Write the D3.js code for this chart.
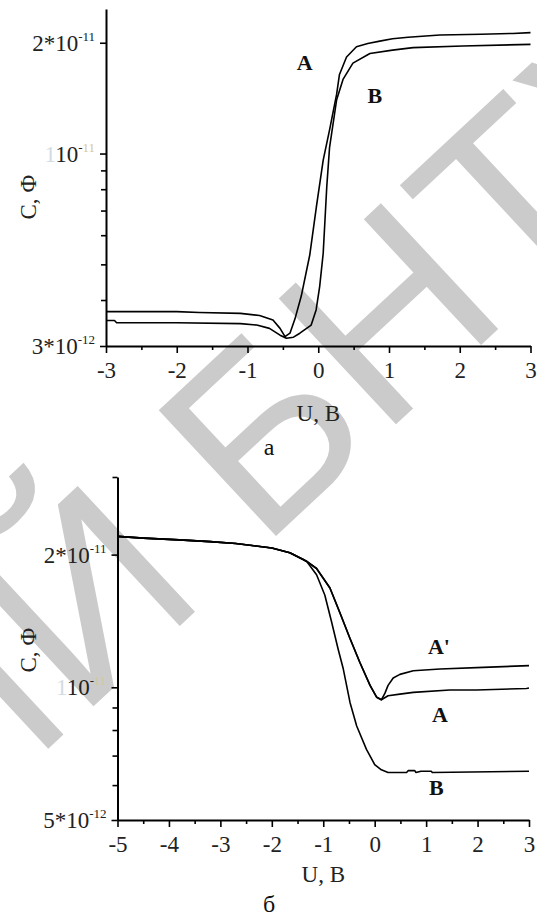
<!DOCTYPE html>
<html>
<head>
<meta charset="utf-8">
<script src="https://cdn.jsdelivr.net/npm/d3@7"></script>
<style>
  body { margin: 0; background: #fff; }
</style>
</head>
<body>
<svg id="chart" width="537" height="918"></svg>
<script>
// values, C in units of 1e-12 F, U in volts
// panel a
var topXTicks = [-3, -2, -1, 0, 1, 2, 3];
var topXMinor = [-2.5, -1.5, -0.5, 0.5, 1.5, 2.5];
var topYMinor = [4, 5, 6, 7, 8, 9];
var topYLabels = [
  { v: 20, parts: [{ t: "2*10" }, { t: "-11", sup: true }] },
  { v: 10, parts: [{ t: "1", c: "#d3dbe4" }, { t: "10" }, { t: "-", sup: true }, { t: "11", sup: true, c: "#d8c98c" }] },
  { v: 3, parts: [{ t: "3*10" }, { t: "-12", sup: true }] }
];
var topA = [[-3, 3.72], [-2.0, 3.72], [-1.68, 3.70], [-1.1, 3.68], [-0.83, 3.63], [-0.64, 3.53],
  [-0.54, 3.35], [-0.47, 3.18], [-0.4, 3.25], [-0.33, 3.55], [-0.24, 4.1], [-0.12, 5.3],
  [-0.025, 7.2], [0.07, 9.6], [0.16, 11.6], [0.26, 14.5], [0.30, 16.4], [0.40, 18.3],
  [0.54, 19.5], [0.7, 19.9], [0.87, 20.2], [1.05, 20.5], [1.27, 20.7], [1.72, 21.0],
  [2.3, 21.1], [2.75, 21.2], [3.0, 21.3]];
var topB = [[-3, 3.52], [-2.88, 3.52], [-2.85, 3.47], [-2.0, 3.47], [-1.1, 3.45], [-0.87, 3.42],
  [-0.69, 3.35], [-0.54, 3.21], [-0.45, 3.15], [-0.35, 3.17], [-0.26, 3.25], [-0.10, 3.42],
  [-0.03, 3.76], [0.02, 4.35], [0.07, 5.36], [0.12, 8.1], [0.16, 10.4], [0.26, 14.0],
  [0.35, 15.9], [0.49, 17.6], [0.73, 18.7], [1.05, 19.1], [1.34, 19.4], [2.04, 19.6], [3.0, 19.8]];

// panel б
var botXTicks = [-5, -4, -3, -2, -1, 0, 1, 2, 3];
var botXMinor = [-4.5, -3.5, -2.5, -1.5, -0.5, 0.5, 1.5, 2.5];
var botYMinor = [6, 7, 8, 9, 30];
var botYLabels = [
  { v: 20, parts: [{ t: "2*10" }, { t: "-11", sup: true }] },
  { v: 10, parts: [{ t: "1", c: "#d3dbe4" }, { t: "10" }, { t: "-", sup: true }, { t: "11", sup: true, c: "#d8c98c" }] },
  { v: 5, parts: [{ t: "5*10" }, { t: "-12", sup: true }] }
];
var botA = [[-5, 22.0], [-4.5, 21.8], [-3.8, 21.6], [-3.2, 21.4], [-2.7, 21.2], [-2.0, 20.7],
  [-1.65, 20.2], [-1.39, 19.5], [-1.32, 19.3], [-1.13, 18.6], [-0.87, 16.8], [-0.68, 14.8],
  [-0.48, 12.9], [-0.29, 11.4], [-0.09, 10.1], [0.04, 9.49], [0.13, 9.37], [0.26, 9.57],
  [0.49, 9.65], [0.75, 9.74], [1.46, 9.86], [1.98, 9.86], [2.95, 9.94], [3.0, 9.96]];
var botA2 = [[-5, 22.0], [-4.5, 21.8], [-3.8, 21.6], [-3.2, 21.4], [-2.7, 21.2], [-2.0, 20.7],
  [-1.65, 20.2], [-1.39, 19.5], [-1.32, 19.3], [-1.13, 18.6], [-0.87, 16.8], [-0.68, 14.8],
  [-0.48, 12.9], [-0.29, 11.4], [-0.09, 10.1], [0.04, 9.49], [0.13, 9.37], [0.2, 9.7],
  [0.26, 10.1], [0.36, 10.5], [0.49, 10.7], [0.75, 10.9], [1.27, 11.0], [2.11, 11.1], [3.0, 11.2]];
var botB = [[-5, 22.0], [-4.5, 21.8], [-3.8, 21.6], [-3.2, 21.4], [-2.7, 21.2], [-2.0, 20.7],
  [-1.65, 20.2], [-1.39, 19.5], [-1.32, 19.3], [-1.13, 18.0], [-0.97, 16.2], [-0.84, 14.1],
  [-0.71, 12.2], [-0.61, 11.0], [-0.48, 9.24], [-0.35, 8.17], [-0.16, 7.23], [0.0, 6.68],
  [0.13, 6.50], [0.26, 6.41], [0.62, 6.41], [0.65, 6.47], [0.78, 6.47], [0.8, 6.41],
  [0.9, 6.45], [1.1, 6.45], [1.12, 6.41], [3.0, 6.45]];

var serif = "'Liberation Serif','Times New Roman',serif";
var svg = d3.select("#chart");

// watermark of the repository, behind everything
var wmSize = 250;
var wm = svg.append("g").attr("transform", "translate(260,428) rotate(-43)")
  .attr("fill", "#cbcbcb").attr("font-family", "'Liberation Sans',Arial,sans-serif")
  .attr("font-size", wmSize);
wm.append("text").attr("x", -0.33 * wmSize).attr("y", 0.36 * wmSize).text("БНТУ");
wm.append("text").attr("x", -0.61 * wmSize).attr("y", 0.36 * wmSize)
  .attr("text-anchor", "end").text("РЕПОЗИТОРИЙ");

function panel(cfg) {
  var g = svg.append("g");
  var x = d3.scaleLinear().domain(cfg.xDomain).range(cfg.xRange);
  var y = d3.scaleLog().domain(cfg.yDomain).range(cfg.yRange);
  var y0 = cfg.yRange[0], x0 = cfg.xRange[0];

  // x axis, major and minor ticks
  var xa = g.append("g").attr("transform", "translate(0," + y0 + ")")
    .call(d3.axisBottom(x).tickValues(cfg.xTicks).tickSize(7).tickSizeOuter(0)
      .tickPadding(9).tickFormat(function(d) { return String(d); }));
  xa.attr("font-family", serif).attr("font-size", 23);
  g.append("g").attr("transform", "translate(0," + y0 + ")")
    .call(d3.axisBottom(x).tickValues(cfg.xMinor).tickSize(4).tickFormat(""))
    .select(".domain").remove();

  // y axis
  g.append("g").attr("transform", "translate(" + x0 + ",0)")
    .call(d3.axisLeft(y).tickValues(cfg.yLabels.map(function(d) { return d.v; }))
      .tickSize(6).tickSizeOuter(0).tickFormat(""));
  g.append("g").attr("transform", "translate(" + x0 + ",0)")
    .call(d3.axisLeft(y).tickValues(cfg.yMinor).tickSize(5).tickFormat(""))
    .select(".domain").remove();

  g.selectAll(".domain").attr("stroke-width", 2);
  g.selectAll(".tick line").attr("stroke-width", 1.6);
  g.selectAll(".tick text").attr("fill", "#222");

  // y tick labels with superscript exponents
  cfg.yLabels.forEach(function(lab) {
    var t = g.append("text").attr("x", x0 - 11).attr("y", y(lab.v) + 8)
      .attr("text-anchor", "end").attr("font-family", serif).attr("font-size", 23)
      .attr("fill", "#222");
    var up = false;
    lab.parts.forEach(function(p) {
      var s = t.append("tspan").text(p.t).attr("fill", p.c || "#222");
      if (p.sup) {
        s.attr("font-size", 13);
        if (!up) { s.attr("dy", -10); up = true; }
      }
    });
  });

  // axis titles
  g.append("text").attr("transform", "translate(36," + cfg.yTitleY + ") rotate(-90)")
    .attr("text-anchor", "middle").attr("font-family", serif).attr("font-size", 23)
    .attr("fill", "#222").text("С, Ф");
  g.append("text").attr("x", (cfg.xRange[0] + cfg.xRange[1]) / 2).attr("y", cfg.xTitleY)
    .attr("text-anchor", "middle").attr("font-family", serif).attr("font-size", 23)
    .attr("fill", "#222").text("U, B");
  g.append("text").attr("x", 269).attr("y", cfg.letterY)
    .attr("text-anchor", "middle").attr("font-family", serif).attr("font-size", 24)
    .attr("fill", "#111").text(cfg.letter);

  // curves
  var line = d3.line().x(function(d) { return x(d[0]); }).y(function(d) { return y(d[1]); });
  cfg.series.forEach(function(s) {
    g.append("path").datum(s).attr("d", line)
      .attr("fill", "none").attr("stroke", "#000").attr("stroke-width", 1.6)
      .attr("stroke-linejoin", "round");
  });

  // curve names
  cfg.names.forEach(function(n) {
    g.append("text").attr("x", x(n.u)).attr("y", y(n.c)).attr("text-anchor", "middle")
      .attr("font-family", serif).attr("font-weight", "bold").attr("font-size", 22)
      .attr("fill", "#111").text(n.t);
  });
}

panel({
  xDomain: [-3, 3], xRange: [106, 530.5],
  yDomain: [3, 24.7], yRange: [346, 9],
  xTicks: topXTicks, xMinor: topXMinor, yMinor: topYMinor, yLabels: topYLabels,
  series: [topA, topB],
  names: [{ t: "A", u: -0.19, c: 16.9 }, { t: "B", u: 0.8, c: 13.7 }],
  yTitleY: 197, xTitleY: 421, letter: "а", letterY: 455
});

panel({
  xDomain: [-5, 3], xRange: [117.5, 529],
  yDomain: [5, 30], yRange: [820, 477],
  xTicks: botXTicks, xMinor: botXMinor, yMinor: botYMinor, yLabels: botYLabels,
  series: [botA, botA2, botB],
  names: [{ t: "A'", u: 1.25, c: 11.9 }, { t: "A", u: 1.27, c: 8.35 }, { t: "B", u: 1.2, c: 5.7 }],
  yTitleY: 650, xTitleY: 882, letter: "б", letterY: 912
});
</script>
</body>
</html>
